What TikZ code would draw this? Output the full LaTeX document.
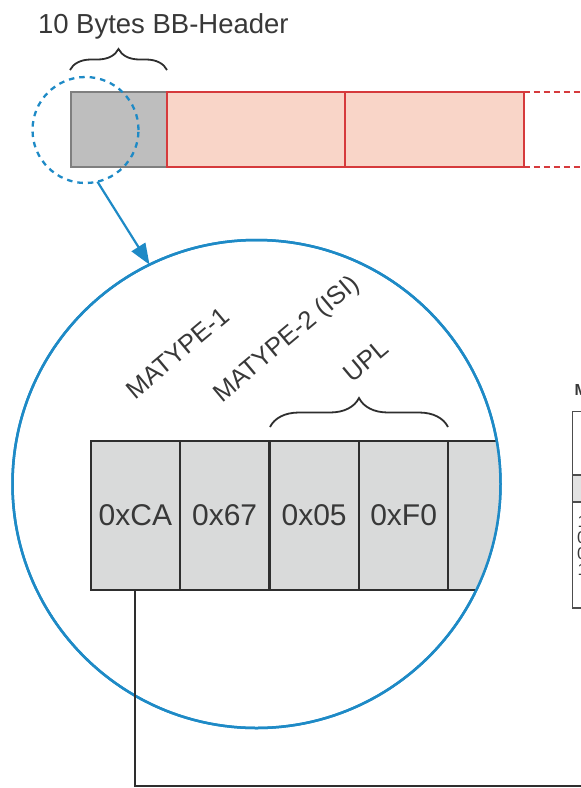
\documentclass[tikz,border=0pt]{standalone}
\usepackage{fontspec}
\setmainfont{Liberation Sans}
\usetikzlibrary{decorations.pathreplacing,arrows.meta}
\definecolor{txtgrey}{HTML}{383838}
\definecolor{hdrfill}{HTML}{BEBEBE}
\definecolor{hdrline}{HTML}{7F7F7F}
\definecolor{redline}{HTML}{D63A3C}
\definecolor{redfill}{HTML}{F9D5C8}
\definecolor{zblue}{HTML}{1E8AC6}
\definecolor{boxfill}{HTML}{D9DADA}
\definecolor{boxline}{HTML}{2E2E2E}
\definecolor{tabfill}{HTML}{E2E2E2}
\begin{document}
\begin{tikzpicture}[x=1pt,y=-1pt,
  every node/.style={inner sep=0pt, outer sep=0pt, text=txtgrey},
  hdrcell/.style={draw=hdrline, fill=hdrfill, line width=2pt, minimum width=96pt, minimum height=74.7pt},
  redcell/.style={draw=redline, fill=redfill, line width=2pt, minimum height=74.7pt},
  reddash/.style={draw=redline, line width=2pt, dash pattern=on 6pt off 4pt},
  bracestyle/.style={draw=boxline, line width=1.8pt, decorate},
  lbl/.style={font=\fontsize{25.5}{28}\selectfont, anchor=base west, rotate=40},
  bytebox/.style={draw=boxline, fill=boxfill, line width=2pt, minimum width=89.3pt, minimum height=149.3pt, font=\fontsize{30}{32}\selectfont},
  zoomring/.style={circle, draw=zblue, line width=2.3pt, dash pattern=on 5.5pt off 5pt, minimum size=106pt},
  magring/.style={circle, draw=zblue, line width=2.5pt, minimum size=488pt},
  zarrow/.style={draw=zblue, line width=2.2pt, -{Triangle[length=21pt, width=16pt]}},
  conn/.style={draw=boxline, line width=2pt},
  tabline/.style={draw=boxline!85, line width=1.5pt},
  tabtext/.style={font=\fontsize{17}{19}\selectfont, anchor=base west}
]
\useasboundingbox (0,0) rectangle (581,788);

% title and brace
\node[font=\fontsize{27.5}{30}\selectfont, anchor=base west] (title) at (38,33) {10 Bytes BB-Header};
\coordinate (bl) at (70,70);
\coordinate (br) at (167,70);
\draw[bracestyle, decoration={brace, amplitude=21pt}] (bl) -- (br);

% baseband frame
\node[hdrcell] (hdr) at (118.7,129.35) {};
\node[redcell, minimum width=178.6pt] (r1) at (256,129.35) {};
\node[redcell, minimum width=178.4pt] (r2) at (434.5,129.35) {};
\coordinate (rtop) at (595,92);
\coordinate (rbot) at (595,166.7);
\draw[reddash] (r2.north east) -- (rtop);
\draw[reddash] (r2.south east) -- (rbot);

% zoom ring and magnifier
\node[zoomring] (zoom) at (85.5,130) {};
\node[magring] (mag) at (256.5,484) {};

\begin{scope}
\clip (256.5,484) circle (244);
\node[bytebox] (b1) at (135.35,515.35) {0xCA};
\node[bytebox] (b2) at (224.65,515.35) {0x67};
\node[bytebox] (b3) at (314.15,515.35) {0x05};
\node[bytebox] (b4) at (403.65,515.35) {0xF0};
\node[bytebox] (b5) at (492.95,515.35) {};
\end{scope}
\node[magring] at (256.5,484) {};

\draw[zarrow] (zoom.-77) -- (mag.116.4);

% rotated labels
\node[lbl] (m1) at (135,400) {MATYPE-1};
\node[lbl] (m2) at (222,403) {MATYPE-2 (ISI)};
\node[lbl] (upl) at (352,383) {UPL};
\coordinate (ul) at (270,427);
\coordinate (ur) at (448,427);
\draw[bracestyle, decoration={brace, amplitude=29pt}] (ul) -- (ur);

% connector to table
\coordinate (lowcorner) at (0,786);
\coordinate (lowend) at (595,786);
\draw[conn] (b1.south) -- (b1.south |- lowcorner) -- (lowend);

% partially visible table at right edge
\node[font=\bfseries\fontsize{16}{18}\selectfont, anchor=base west] (tt) at (574.5,395) {M};
\coordinate (tTL) at (572.7,411.7);
\coordinate (tBL) at (572.7,608);
\coordinate (tTR) at (595,411.7);
\coordinate (tBR) at (595,608);
\fill[tabfill] (572.7,475) rectangle (595,502);
\draw[tabline] (tTR) -- (tTL) -- (tBL) -- (tBR);
\draw[tabline] (572.7,475) -- (595,475);
\draw[tabline] (572.7,502) -- (595,502);
\node[tabtext] (t1) at (577.5,527) {1};
\node[tabtext] (t2) at (577,543) {0};
\node[tabtext] (t3) at (577,559) {0};
\node[tabtext] (t4) at (577.5,575) {1};
\end{tikzpicture}
\end{document}
